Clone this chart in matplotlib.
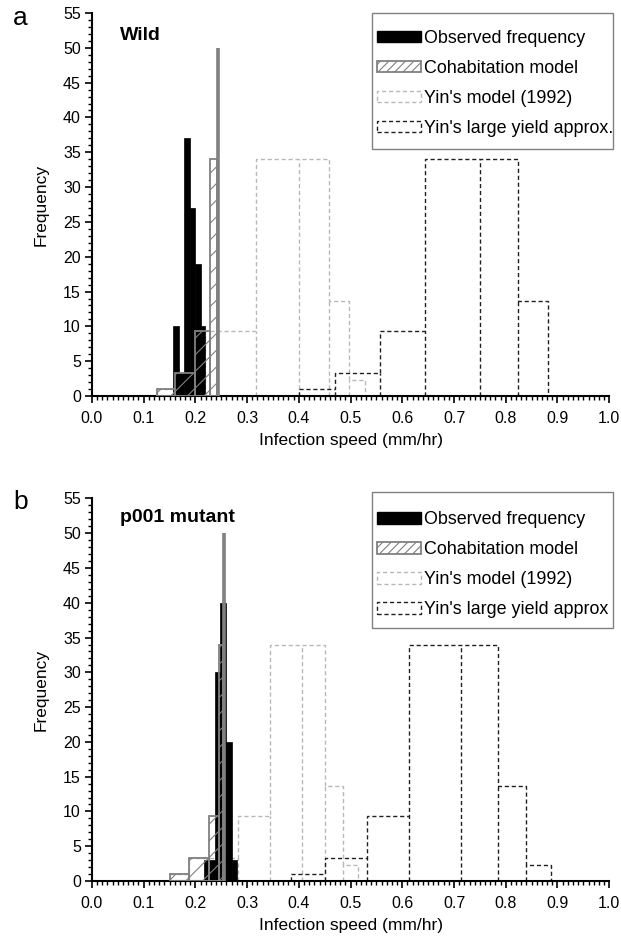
import matplotlib.pyplot as plt
import numpy as np
from matplotlib.ticker import MultipleLocator
from matplotlib.patches import Patch, Rectangle

plt.rcParams['font.family'] = ['Liberation Sans', 'DejaVu Sans']
plt.rcParams['hatch.linewidth'] = 0.8

# ---- data ----
# panel a: wild type
wild_obs_edges = [0.157, 0.168, 0.178, 0.189, 0.1995, 0.21, 0.219]
wild_obs_freq = [10, 3.3, 37, 27, 19, 10]
wild_coh_edges = [0.125, 0.16, 0.20, 0.228, 0.241]
wild_coh_freq = [1, 3.3, 9.3, 34]
wild_coh_peak = (0.2432, 50)
wild_yin_edges = [0.125, 0.16, 0.219, 0.318, 0.40, 0.458, 0.497, 0.528]
wild_yin_freq = [1, 3.3, 9.3, 34, 34, 13.6, 2.3]
wild_big_edges = [0.40, 0.47, 0.556, 0.643, 0.75, 0.823, 0.882]
wild_big_freq = [1, 3.3, 9.3, 34, 34, 13.6]

# panel b: p001 mutant
mut_obs_edges = [0.217, 0.227, 0.237, 0.247, 0.26, 0.27, 0.28]
mut_obs_freq = [3, 3, 30, 40, 20, 3]
mut_coh_edges = [0.151, 0.188, 0.227, 0.246, 0.2535]
mut_coh_freq = [1, 3.3, 9.3, 34]
mut_coh_peak = (0.2545, 50)
mut_yin_edges = [0.151, 0.188, 0.283, 0.344, 0.406, 0.45, 0.486, 0.515]
mut_yin_freq = [1, 3.3, 9.3, 34, 34, 13.6, 2.3]
mut_big_edges = [0.384, 0.45, 0.532, 0.613, 0.713, 0.785, 0.84, 0.887]
mut_big_freq = [1, 3.3, 9.3, 34, 34, 13.6, 2.3]

DASH = (0, (3, 2))
LIGHT = '#b8b8b8'
DARK = '#202020'
COH = '#808080'


def draw_bars(ax, edges, freq, **kw):
    edges = np.asarray(edges)
    return ax.bar(edges[:-1], freq, width=np.diff(edges), align='edge', **kw)


def draw_dashed(ax, edges, freq, color):
    # outline as one step path, inner bin walls added separately so the
    # dashes do not overlap into a solid line
    ax.stairs(freq, edges, baseline=0, fill=False, edgecolor=color,
              linestyle=DASH, linewidth=1.0, zorder=2)
    inner = edges[1:-1]
    tops = np.minimum(freq[:-1], freq[1:])
    ax.vlines(inner, 0, tops, colors=color, linestyles=DASH,
              linewidth=1.0, zorder=2)


def panel(ax, obs, coh, peak, yin, big, title, last_label, title_y,
          box_px, leg_top_px):
    draw_dashed(ax, *yin, LIGHT)
    draw_dashed(ax, *big, DARK)
    draw_bars(ax, *obs, facecolor='black', edgecolor='black',
              linewidth=0.5, zorder=3)
    draw_bars(ax, *coh, facecolor='none', edgecolor=COH,
              hatch='//', linewidth=1.3, zorder=4)
    ax.vlines(peak[0], 0, peak[1], color=COH, linewidth=2.6, zorder=5)

    ax.set_xlim(0, 1.0)
    ax.set_ylim(0, 55)
    ax.xaxis.set_major_locator(MultipleLocator(0.1))
    ax.xaxis.set_minor_locator(MultipleLocator(0.01))
    ax.yaxis.set_major_locator(MultipleLocator(5))
    ax.yaxis.set_minor_locator(MultipleLocator(1))
    ax.xaxis.set_major_formatter(plt.FormatStrFormatter('%.1f'))
    ax.tick_params(which='major', direction='out', length=5, width=1.2,
                   labelsize=11.5)
    ax.tick_params(axis='x', which='major', pad=6)
    ax.tick_params(axis='y', which='major', pad=3)
    ax.tick_params(which='minor', direction='out', length=3, width=1.0)
    for s in ['top', 'right']:
        ax.spines[s].set_visible(False)
    for s in ['left', 'bottom']:
        ax.spines[s].set_linewidth(1.5)
    ax.set_xlabel('Infection speed (mm/hr)', fontsize=12.5, labelpad=5)
    ax.set_ylabel('Frequency', fontsize=12.5, labelpad=10)
    ax.text(0.055, title_y, title, transform=ax.transAxes,
            fontsize=14, fontweight='bold', va='baseline')

    handles = [
        Patch(facecolor='black', edgecolor='black', label='Observed frequency'),
        Patch(facecolor='white', edgecolor=COH, hatch='////', linewidth=1.3,
              label='Cohabitation model'),
        Patch(facecolor='white', edgecolor=LIGHT, linestyle=DASH,
              label="Yin's model (1992)"),
        Patch(facecolor='white', edgecolor=DARK, linestyle=DASH,
              label=last_label),
    ]
    ax.legend(handles=handles, loc='upper left',
              bbox_to_anchor=(377 / 621, 1 - leg_top_px / 940),
              bbox_transform=fig.transFigure, borderaxespad=0, borderpad=0,
              frameon=False, fontsize=12.9, handlelength=2.45,
              handleheight=0.6, handletextpad=0.2, labelspacing=0.72)
    x0, y0, x1, y1 = box_px
    fig.add_artist(Rectangle((x0 / 621, 1 - y1 / 940), (x1 - x0) / 621,
                             (y1 - y0) / 940, transform=fig.transFigure,
                             fill=False, edgecolor=COH, linewidth=1.0))


fig = plt.figure(figsize=(6.21, 9.40), dpi=100)
ax1 = fig.add_axes([0.148, 0.5787, 0.833, 0.4075])
ax2 = fig.add_axes([0.148, 0.0628, 0.833, 0.4069])

panel(ax1, (wild_obs_edges, wild_obs_freq), (wild_coh_edges, wild_coh_freq),
      wild_coh_peak, (wild_yin_edges, wild_yin_freq),
      (wild_big_edges, wild_big_freq), 'Wild',
      "Yin's large yield approx.", 0.929, (372, 13, 613, 149), 30)
panel(ax2, (mut_obs_edges, mut_obs_freq), (mut_coh_edges, mut_coh_freq),
      mut_coh_peak, (mut_yin_edges, mut_yin_freq),
      (mut_big_edges, mut_big_freq), 'p001 mutant',
      "Yin's large yield approx", 0.939, (372, 492, 613, 628), 511.5)

fig.text(0.021, 0.9734, 'a', fontsize=19, va='baseline')
fig.text(0.021, 0.459, 'b', fontsize=19, va='baseline')

plt.savefig('out.png', dpi=100)
